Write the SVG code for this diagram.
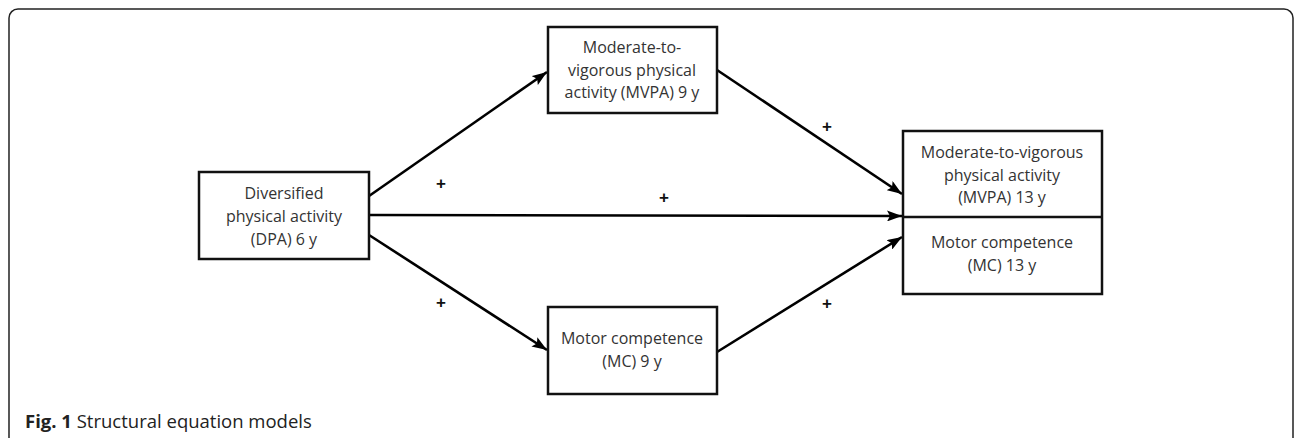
<svg xmlns="http://www.w3.org/2000/svg" width="1295" height="438" viewBox="0 0 1295 438">
<style>
.box{fill:#fff;stroke:#111;stroke-width:2.5}
.t{font-family:"Open Sans","Liberation Sans",sans-serif;font-size:16px;fill:#333;text-anchor:middle}
.c{stroke:#000;stroke-width:2.6;fill:none;marker-end:url(#ah)}
.p{font-family:"Liberation Sans",sans-serif;font-size:17px;font-weight:bold;fill:#111;text-anchor:middle}
.cap{font-family:"Open Sans","Liberation Sans",sans-serif;font-size:18.5px;fill:#222}
</style>
<defs>
<marker id="ah" markerWidth="15" markerHeight="11" viewBox="0 0 15 11" refX="15" refY="5.5" orient="auto" markerUnits="userSpaceOnUse">
<path d="M0,0 L15,5.5 L0,11 L3,5.5 Z" fill="#000"/>
</marker>
</defs>
<rect x="9" y="9" width="1284" height="450" rx="9" fill="#fff" stroke="#222" stroke-width="1.5"/>
<g id="connectors">
<line class="c" x1="369" y1="196" x2="547" y2="72"/>
<line class="c" x1="717" y1="70" x2="902" y2="194"/>
<line class="c" x1="369" y1="215" x2="902" y2="216"/>
<line class="c" x1="369" y1="235" x2="547" y2="350"/>
<line class="c" x1="717" y1="352" x2="902" y2="237"/>
<text class="p" x="441" y="189">+</text>
<text class="p" x="827" y="132">+</text>
<text class="p" x="664" y="203">+</text>
<text class="p" x="441" y="308">+</text>
<text class="p" x="827" y="309">+</text>
</g>
<g id="dpa6">
<rect class="box" x="199" y="172" width="170" height="87"/>
<text class="t" x="284" y="199">Diversified</text>
<text class="t" x="284" y="222">physical activity</text>
<text class="t" x="284" y="245">(DPA) 6 y</text>
</g>
<g id="mvpa9">
<rect class="box" x="548" y="27" width="169" height="86"/>
<text class="t" x="632" y="53">Moderate-to-</text>
<text class="t" x="632" y="76">vigorous physical</text>
<text class="t" x="632" y="98">activity (MVPA) 9 y</text>
</g>
<g id="mc9">
<rect class="box" x="548" y="307" width="169" height="87"/>
<text class="t" x="632" y="344">Motor competence</text>
<text class="t" x="632" y="367">(MC) 9 y</text>
</g>
<g id="outcome13">
<rect class="box" x="903" y="131" width="199" height="163"/>
<line x1="903" y1="217" x2="1102" y2="217" stroke="#111" stroke-width="2.5"/>
<text class="t" x="1002" y="158">Moderate-to-vigorous</text>
<text class="t" x="1002" y="181">physical activity</text>
<text class="t" x="1002" y="203">(MVPA) 13 y</text>
<text class="t" x="1002" y="248">Motor competence</text>
<text class="t" x="1002" y="271">(MC) 13 y</text>
</g>
<text class="cap" x="25" y="428"><tspan font-weight="bold">Fig. 1</tspan> Structural equation models</text>
</svg>
